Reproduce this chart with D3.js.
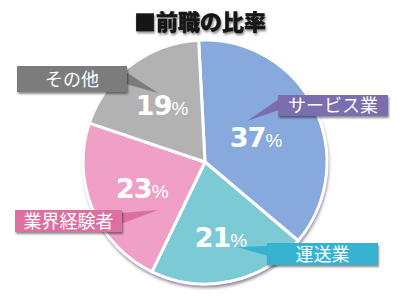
<!DOCTYPE html>
<html>
<head>
<meta charset="utf-8">
<script src="https://cdn.jsdelivr.net/npm/d3@7"></script>
<style>
  body { margin: 0; background: #fff; }
  #chart text { font-family: "Noto Sans CJK JP", "Noto Sans", sans-serif; }
</style>
</head>
<body>
<div id="chart"></div>
<script>
var width = 400, height = 300;

// chart data
var categories = ['サービス業', '運送業', '業界経験者', 'その他'];
var shares = [37, 21, 23, 19];
var title = '■前職の比率';

var sliceColors = ['#88a9dc', '#7ccad5', '#f0a0c6', '#b2b2b2'];
var boxColors = ['#7a6eae', '#36b3d1', '#dc6fa0', '#7c7c7c'];

// label placement (box top-left, box size, pointer tip, percent label radius)
var boxes = [
    {x: 278, y: 95, w: 110, h: 21, tip: [247, 121], base: [[279, 99], [279, 110]], r: 57},
    {x: 267, y: 243, w: 111, h: 22, tip: [237, 247], base: [[268, 246], [268, 256]], r: 77},
    {x: 15, y: 210, w: 107, h: 22, tip: [158, 210], base: [[121, 213], [121, 224]], r: 68},
    {x: 17, y: 66, w: 110, h: 26, tip: [158, 93], base: [[126, 72], [126, 84]], r: 71}
];

var cx = 205, cy = 162, radius = 122;

var svg = d3.select('#chart')
    .append('svg')
    .attr('width', width)
    .attr('height', height);

var defs = svg.append('defs');
var shadow = defs.append('filter').attr('id', 'shadow')
    .attr('x', '-10%').attr('y', '-20%').attr('width', '130%').attr('height', '160%');
shadow.append('feDropShadow')
    .attr('dx', 1).attr('dy', 2).attr('stdDeviation', 1.2)
    .attr('flood-color', '#000').attr('flood-opacity', 0.45);

var soft = defs.append('filter').attr('id', 'soft');
soft.append('feGaussianBlur').attr('stdDeviation', 1.5);

// title
svg.append('text')
    .attr('x', 200)
    .attr('y', 30)
    .attr('text-anchor', 'middle')
    .attr('font-size', '22px')
    .attr('font-weight', '900')
    .attr('fill', '#141414')
    .attr('stroke', '#141414')
    .attr('stroke-width', 0.4)
    .attr('filter', 'url(#shadow)')
    .text(title);

var pie = d3.pie()
    .sort(null)
    .startAngle(-3 * Math.PI / 180)
    .endAngle(357 * Math.PI / 180);

var arcs = pie(shares);

var arc = d3.arc().innerRadius(0).outerRadius(radius);

var g = svg.append('g').attr('transform', 'translate(' + cx + ',' + cy + ')');

// rim shadow
g.append('circle')
    .attr('cx', 1)
    .attr('cy', 3)
    .attr('r', radius + 1)
    .attr('fill', '#9a8fa6')
    .attr('filter', 'url(#soft)');
g.append('circle')
    .attr('r', radius + 1)
    .attr('fill', '#fff');

g.selectAll('.slice')
    .data(arcs)
    .enter()
    .append('path')
    .attr('class', 'slice')
    .attr('d', arc)
    .attr('fill', function(d, i){
        return sliceColors[i];
    })
    .attr('stroke', '#fff')
    .attr('stroke-width', 3)
    .attr('stroke-linejoin', 'round');

// pointers and boxes
boxes.forEach(function(b, i){
    svg.append('path')
        .attr('d', 'M' + b.base[0] + 'L' + b.tip + 'L' + b.base[1] + 'Z')
        .attr('fill', boxColors[i]);
    svg.append('rect')
        .attr('x', b.x)
        .attr('y', b.y)
        .attr('width', b.w)
        .attr('height', b.h)
        .attr('fill', boxColors[i])
        .attr('filter', 'url(#shadow)');
    svg.append('text')
        .attr('x', b.x + b.w / 2)
        .attr('y', b.y + b.h / 2 + 6.5)
        .attr('text-anchor', 'middle')
        .attr('font-size', '18px')
        .attr('fill', '#fff')
        .text(categories[i]);
});

// percentages
arcs.forEach(function(d, i){
    var a = (d.startAngle + d.endAngle) / 2;
    var r = boxes[i].r;
    var t = g.append('text')
        .attr('x', Math.sin(a) * r)
        .attr('y', -Math.cos(a) * r + 10)
        .attr('text-anchor', 'middle')
        .attr('fill', '#fff');
    t.append('tspan')
        .style('font-family', '"DejaVu Sans", sans-serif')
        .attr('font-size', '27px')
        .attr('font-weight', 'bold')
        .attr('letter-spacing', '-1px')
        .text(shares[i]);
    t.append('tspan')
        .style('font-family', '"Liberation Sans", Arial, sans-serif')
        .attr('font-size', '19px')
        .text('%');
});
</script>
</body>
</html>
